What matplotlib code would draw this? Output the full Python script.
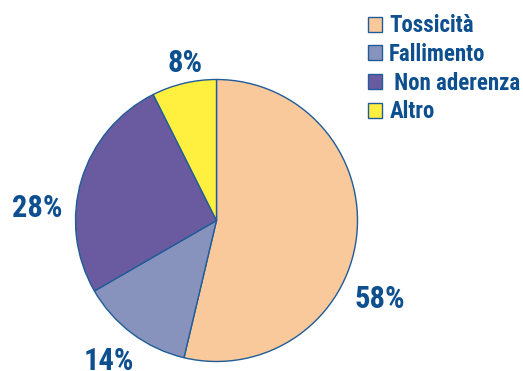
import matplotlib
matplotlib.use("Agg")
import matplotlib.pyplot as plt

# data
categories = ["Tossicità", "Fallimento", " Non aderenza", "Altro"]
values = [58, 14, 28, 8]
pct_labels = ["58%", "14%", "28%", "8%"]
colors = ["#F9C89B", "#8793BC", "#6A5BA1", "#FFF040"]

text_col = "#0D4F8F"
edge_col = "#1F5C99"
font = ["Roboto Condensed", "Liberation Sans Narrow", "Liberation Sans", "DejaVu Sans"]

W, H = 523, 371
fig = plt.figure(figsize=(W / 100, H / 100), dpi=100)

# pie centre and radius in pixels
cx, cy, r = 216.5, 220.5, 141
ax = fig.add_axes([(cx - r) / W, (H - cy - r) / H, 2 * r / W, 2 * r / H])
wedges, _ = ax.pie(values, colors=colors, startangle=90, counterclock=False,
                   wedgeprops=dict(edgecolor=edge_col, linewidth=1.0))
ax.set_xlim(-1, 1)
ax.set_ylim(-1, 1)
ax.set_aspect("equal")
ax.axis("off")

# percentage labels (in pie radius units)
label_pos = [(1.16, -0.56), (-0.76, -0.995), (-1.27, 0.09), (-0.22, 1.12)]
for txt, (x, y) in zip(pct_labels, label_pos):
    ax.text(x, y, txt, ha="center", va="center", fontsize=22, fontweight="bold",
            fontstretch="condensed", color=text_col, family=font, clip_on=False)

leg = fig.legend(wedges, categories, loc="upper left",
                 bbox_to_anchor=(359 / W, 1 - 5 / H), frameon=False,
                 handlelength=0.62, handleheight=0.62, handletextpad=0.3,
                 labelspacing=0.25, borderaxespad=0,
                 prop=dict(family=font, weight="bold", size=16.5, stretch="condensed"))
for t in leg.get_texts():
    t.set_color(text_col)
for h in leg.legend_handles:
    h.set_edgecolor(edge_col)

fig.savefig("out.png", dpi=100)
